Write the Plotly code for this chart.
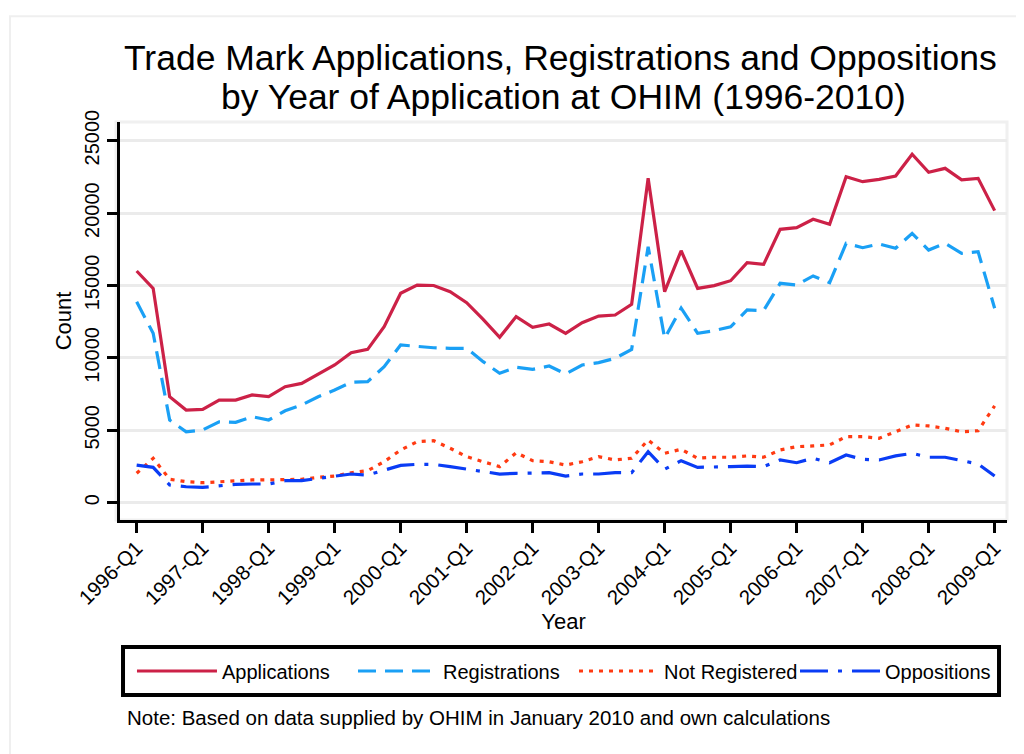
import plotly.graph_objects as go

quarters = [f"{y}-Q{q}" for y in range(1996, 2010) for q in range(1, 5)][:53]
tick_labels = [f"{y}-Q1" for y in range(1996, 2010)]

applications = [16000, 14800, 7320, 6400, 6450, 7090, 7090, 7440, 7320, 8010, 8240, 8890, 9510,
                10360, 10590, 12150, 14460, 15030, 15000, 14570, 13810, 12660, 11420, 12850, 12110,
                12340, 11700, 12430, 12890, 12960, 13700, 22400, 14570, 17400, 14800, 14990, 15330,
                16570, 16460, 18880, 18990, 19570, 19230, 22510, 22170, 22330, 22560, 24060, 22820,
                23090, 22290, 22400, 20170]
registrations = [13880, 11700, 5710, 4900, 5020, 5590, 5550, 5940, 5710, 6350, 6750, 7320, 7780,
                 8310, 8360, 9390, 10890, 10770, 10700, 10660, 10660, 9740, 8940, 9350, 9210, 9440,
                 8890, 9510, 9670, 9970, 10590, 17680, 11350, 13430, 11700, 11880, 12150, 13310,
                 13270, 15150, 15030, 15660, 15190, 17910, 17610, 17870, 17570, 18600, 17450, 17910,
                 17220, 17330, 13430]
not_registered = [2030, 3070, 1620, 1450, 1380, 1450, 1520, 1570, 1570, 1620, 1620, 1750, 1840,
                  2070, 2210, 2830, 3640, 4210, 4280, 3760, 3180, 2830, 2490, 3450, 2900, 2830,
                  2600, 2830, 3180, 2950, 3070, 4330, 3410, 3690, 3070, 3140, 3140, 3230, 3140,
                  3640, 3870, 3920, 3990, 4560, 4560, 4450, 4900, 5370, 5300, 5140, 4900, 4970, 6680]
oppositions = [2600, 2440, 1220, 1100, 1060, 1150, 1270, 1290, 1290, 1520, 1520, 1680, 1820, 1980,
               1910, 2260, 2580, 2650, 2650, 2490, 2310, 2140, 1980, 2030, 2030, 2070, 1840, 1980,
               1980, 2070, 2070, 3520, 2310, 2900, 2440, 2490, 2490, 2530, 2490, 2950, 2760, 3070,
               2760, 3290, 3000, 2950, 3230, 3410, 3140, 3140, 2900, 2670, 1840]

series = [
    ("Applications", applications, "#cc2147", "solid"),
    ("Registrations", registrations, "#1aa0f5", "18px,9px"),
    ("Not Registered", not_registered, "#ff3a12", "4px,6px"),
    ("Oppositions", oppositions, "#0a3cf5", "28px,10px,4px,10px"),
]

FONT = "Liberation Sans, Arial, sans-serif"

fig = go.Figure()
for name, vals, color, dash in series:
    fig.add_trace(go.Scatter(x=quarters, y=vals, name=name, mode="lines",
                             line=dict(color=color, width=3.2, dash=dash)))

# page body adds an 8px offset; the figure is sized to fill the window exactly
fig.update_layout(
    width=1016, height=746,
    paper_bgcolor="white", plot_bgcolor="white",
    margin=dict(l=112, r=17, t=114, b=234, autoexpand=False),
    font=dict(family=FONT, color="black"),
    showlegend=True,
    legend=dict(orientation="h", x=0.0135, y=-0.3794, xanchor="left", yanchor="middle",
                borderwidth=0, bgcolor="rgba(0,0,0,0)",
                font=dict(size=20, family=FONT), itemwidth=80, entrywidth=126,
                tracegroupgap=0),
    xaxis=dict(type="category", range=[-1.01, 52.75], tickmode="array",
               tickvals=tick_labels, ticktext=tick_labels, tickangle=-45,
               tickfont=dict(size=20.5), ticks="outside", ticklen=10, tickwidth=3,
               ticklabelstandoff=-5,
               tickcolor="black", showline=True, linecolor="black", linewidth=3,
               showgrid=False, zeroline=False,
               title=dict(text="Year", font=dict(size=22), standoff=2)),
    yaxis=dict(range=[-1195, 26290], tickvals=[0, 5000, 10000, 15000, 20000, 25000],
               tickformat="d",
               tickangle=-90, tickfont=dict(size=20), ticks="outside", ticklen=10,
               tickwidth=3, tickcolor="black", showline=True, linecolor="black",
               linewidth=3, showgrid=True, gridcolor="#ebebeb", gridwidth=3,
               zeroline=False,
               title=dict(text="Count", font=dict(size=22), standoff=4)),
    annotations=[
        dict(text="Trade Mark Applications, Registrations and Oppositions", xref="paper",
             yref="paper", x=0.497, y=1.162, xanchor="center", yanchor="middle",
             showarrow=False, font=dict(size=35.5)),
        dict(text="by Year of Application at OHIM (1996-2010)", xref="paper",
             yref="paper", x=0.5, y=1.0616, xanchor="center", yanchor="middle",
             showarrow=False, font=dict(size=35.5)),
        dict(text="Note: Based on data supplied by OHIM in January 2010 and own calculations",
             xref="paper", yref="paper", x=0.0056, y=-0.495, xanchor="left", yanchor="middle",
             showarrow=False, font=dict(size=20.5)),
    ],
    shapes=[
        dict(type="rect", xref="paper", yref="paper", x0=-0.124, x1=1.2, y0=-0.8, y1=1.266,
             line=dict(color="#efefef", width=2), layer="below"),
        dict(type="rect", xref="paper", yref="paper", x0=-0.0045, x1=1.0, y0=0, y1=1.0,
             line=dict(color="#f0f0f0", width=3), layer="below"),
        dict(type="rect", xref="paper", yref="paper", x0=0.0034, x1=0.991, y0=-0.4397,
             y1=-0.319, line=dict(color="black", width=4)),
    ],
)

fig.write_html("out.html")
